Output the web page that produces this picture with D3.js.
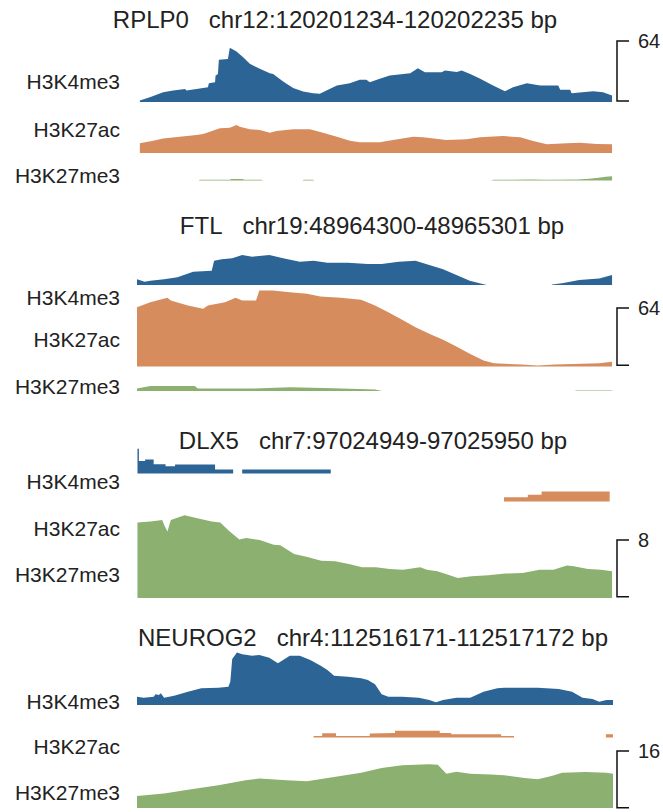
<!DOCTYPE html>
<html>
<head>
<meta charset="utf-8">
<script src="https://cdn.jsdelivr.net/npm/d3@7"></script>
<style>
  body { margin: 0; background: #fff; }
  svg text { font-family: Arial, "Liberation Sans", sans-serif; fill: #222; }
</style>
</head>
<body>
<svg id="chart" width="663" height="812"></svg>
<script>
// ---- data ----
const genes = ["RPLP0", "FTL", "DLX5", "NEUROG2"];
const loci = ["chr12:120201234-120202235 bp", "chr19:48964300-48965301 bp",
              "chr7:97024949-97025950 bp", "chr4:112516171-112517172 bp"];
const marks = ["H3K4me3", "H3K27ac", "H3K27me3"];
const scaleMax = [64, 64, 8, 16];
const regionLength = 1000;

// signal profiles: [offset in bp, signal]
const rplp0K4me3 = [[6,1.6],[27,5],[55,10.5],[76,12.3],[101,14],[104,12.3],[125,14],[149,15.8],[151,20],[164,21],[165,28],[170,30],[172,45],[191,46],[195,57.8],[209,54],[223,47.8],[237,40.7],[258,35.4],[279,30.7],[286,30],[307,22],[328,15],[349,11.2],[370,9.4],[384,8.7],[398,12.3],[420,17.6],[447,20],[468,23.7],[482,23.7],[489,21],[510,24.7],[531,28.3],[574,30.7],[590,36],[605,31.8],[640,31.8],[647,33.6],[672,32],[682,33.6],[700,30],[721,24.7],[748,17.6],[773,11.5],[790,15.8],[819,20],[847,17.6],[885,17.6],[889,13],[910,13],[913,9.4],[958,11.5],[979,10.5],[998,7]];
const rplp0K27ac = [[6,10.3],[34,13.1],[55,15.6],[90,17.4],[125,19.2],[139,20.3],[153,22.7],[174,26.3],[195,27],[209,29.9],[216,28],[237,25.3],[258,24.5],[279,21.7],[293,23.5],[328,25.3],[363,25.3],[391,21.7],[420,17.4],[447,13.1],[468,11.4],[510,11.4],[538,13.9],[580,17.4],[601,16.7],[650,13.9],[692,14.6],[721,16.7],[769,18.1],[805,16.7],[832,12.8],[861,9.3],[903,10.3],[931,11],[966,9.6],[998,9.3]];
const rplp0K27me3 = [[130,0],[132,0.8],[195,0.8],[198,1.6],[222,1.6],[225,0.8],[262,0.8],[264,0],[348,0],[350,0.8],[370,0.8],[372,0],[745,0],[748,0.8],[830,1],[862,0.8],[925,1],[950,2],[970,3],[985,4],[998,4.5]];

const ftlK4me3 = [[0,6.3],[16,3.7],[28,4.8],[57,6.3],[85,8.6],[118,14.9],[157,16],[162,27.2],[178,28.7],[200,29.8],[221,33.5],[242,31.6],[278,33.5],[307,29.8],[342,26],[371,27.2],[400,24.9],[443,24.9],[485,23.5],[514,23.5],[550,26],[585,27.2],[614,22.3],[643,17.5],[671,11.2],[699,4.8],[728,0.7],[735,0],[871,0],[872,0.6],[893,1.9],[929,5.6],[971,7.4],[998,11.2]];
const ftlK27ac = [[0,66.3],[28,71.9],[64,76.7],[71,73.7],[107,68.1],[139,64.4],[149,68.1],[185,71.9],[207,76.7],[221,73.7],[250,73.7],[257,84.9],[285,84.9],[321,83],[357,81.2],[385,78.2],[428,76.7],[471,74.5],[500,68.1],[528,60.7],[557,52.1],[585,43.9],[614,36.5],[643,29.8],[671,22.3],[699,14.2],[728,6.7],[750,3.7],[807,2.2],[842,1.1],[878,2.2],[935,3],[971,3.7],[998,5.2]];
const ftlK27me3 = [[0,2.7],[28,5.6],[121,5.6],[128,2.7],[242,2.7],[321,4.2],[413,3.2],[500,1.8],[515,0],[920,0],[922,0.6],[998,0.6]];

const dlx5K4me3 = [[1,0],[1,3.5],[4,3.5],[4,1.78],[17,1.78],[17,1.97],[35,1.97],[35,1.31],[60,1.31],[60,1.03],[80,1.03],[80,1.27],[164,1.27],[164,0.56],[202,0.56],[202,0],[221,0],[221,0.56],[407,0.56],[407,0]];
const dlx5K27ac = [[771,0],[771,0.61],[821,0.61],[821,0.94],[850,0.94],[850,1.41],[993,1.41],[993,0]];
const dlx5K27me3 = [[1,10.67],[28,10.8],[53,11],[57,10.3],[64,9.4],[71,11],[100,11.66],[129,11.2],[157,10.8],[175,10.67],[193,9.5],[215,8.24],[229,8.47],[258,8.18],[287,7.53],[301,7.43],[330,6.2],[358,5.8],[387,5.27],[416,5.18],[445,4.8],[473,4.33],[502,4.33],[531,4.1],[559,4],[595,4.33],[609,4],[631,3.77],[652,3.3],[674,2.83],[703,3.07],[738,3.2],[774,3.45],[810,3.54],[846,4],[875,4],[903,4.6],[918,4.47],[947,4.1],[975,4],[998,3.77]];

const neurog2K4me3 = [[0,2.35],[14,2.07],[35,2.35],[39,3],[46,2.8],[50,3.3],[57,2.07],[78,2.63],[107,3.76],[135,4.7],[171,4.89],[192,5.17],[196,6.58],[200,12.97],[210,14.85],[221,14.3],[242,13.9],[257,14.1],[278,13.35],[296,11.75],[307,12.7],[321,13.9],[342,13.9],[364,12.7],[386,11.1],[400,9.87],[414,8.27],[443,7.99],[471,7.52],[485,7.05],[500,5.83],[514,3],[528,2.35],[557,2.35],[592,2.07],[614,1.41],[628,0.75],[643,1.41],[671,2.07],[700,2.07],[728,3.76],[757,4.7],[771,4.89],[842,4.89],[886,4.51],[914,3.76],[936,2.07],[957,1.69],[971,0.94],[986,1.41],[1000,1.41]];
const neurog2K27ac = [[371,0],[371,0.4],[389,0.4],[389,1.2],[418,1.2],[418,0.4],[489,0.4],[489,1.1],[542,1.3],[542,1.9],[636,1.9],[636,1.3],[660,1.3],[660,0.9],[765,0.9],[765,0.4],[792,0.4],[792,0],[985,0],[985,0.9],[1000,0.9]];
const neurog2K27me3 = [[0,3.38],[57,4.06],[114,5.27],[171,6.4],[228,7.81],[257,8.29],[314,7.81],[357,7.53],[414,8.74],[471,9.98],[514,11.3],[557,12.04],[614,12.32],[632,12.2],[650,9.7],[671,10.2],[700,9.7],[743,9.42],[771,9.22],[814,8.46],[842,8.09],[871,9.02],[893,9.98],[943,10.15],[986,9.98],[1000,9.7]];

const tracks = [
    [rplp0K4me3, rplp0K27ac, rplp0K27me3],
    [ftlK4me3, ftlK27ac, ftlK27me3],
    [dlx5K4me3, dlx5K27ac, dlx5K27me3],
    [neurog2K4me3, neurog2K27ac, neurog2K27me3]
];

// ---- layout ----
const colors = ["#2c6495", "#d68c5d", "#8bb06f"];
const labelRight = 120;
const scaleBarX = 617, tickLen = 12;
const layout = [
    {titleX: 335, titleY: 28,  bar: [41, 101],    base: [102, 153, 180.5], labelY: [89, 137, 183]},
    {titleX: 372, titleY: 234, bar: [308, 365.3], base: [285, 366.5, 391], labelY: [305, 347, 394]},
    {titleX: 373, titleY: 449, bar: [540, 596.7], base: [473.5, 501.5, 598], labelY: [489, 536, 582]},
    {titleX: 373, titleY: 646, bar: [751, 807.7], base: [705, 737.5, 808], labelY: [709, 754, 800]}
];

const svg = d3.select("#chart");

let x = d3.scaleLinear()
    .domain([0, regionLength])
    .range([137, 613]);

layout.forEach(function (p, i) {
    let g = svg.append("g").attr("class", "panel");
    let barPx = p.bar[1] - p.bar[0];

    // title
    let title = g.append("text")
        .attr("x", p.titleX)
        .attr("y", p.titleY)
        .attr("text-anchor", "middle")
        .style("font-size", "24px");
    title.append("tspan").text(genes[i]);
    title.append("tspan").attr("dx", 20).text(loci[i]);

    // tracks
    marks.forEach(function (m, j) {
        let y = d3.scaleLinear()
            .domain([0, scaleMax[i]])
            .range([p.base[j], p.base[j] - barPx]);

        let area = d3.area()
            .x(d => x(d[0]))
            .y0(y(0))
            .y1(d => y(d[1]));

        g.append("path")
            .datum(tracks[i][j])
            .attr("fill", colors[j])
            .attr("d", area);

        g.append("text")
            .attr("x", labelRight)
            .attr("y", p.labelY[j])
            .attr("text-anchor", "end")
            .style("font-size", "21px")
            .text(m);
    });

    // scale bar
    g.append("path")
        .attr("fill", "none")
        .attr("stroke", "#111")
        .attr("stroke-width", 1.5)
        .attr("d", "M" + (scaleBarX + tickLen) + "," + p.bar[0] + "H" + scaleBarX +
                   "V" + p.bar[1] + "H" + (scaleBarX + tickLen));

    g.append("text")
        .attr("x", scaleBarX + 21)
        .attr("y", p.bar[0] + 7)
        .style("font-size", "20px")
        .text(scaleMax[i]);
});
</script>
</body>
</html>
